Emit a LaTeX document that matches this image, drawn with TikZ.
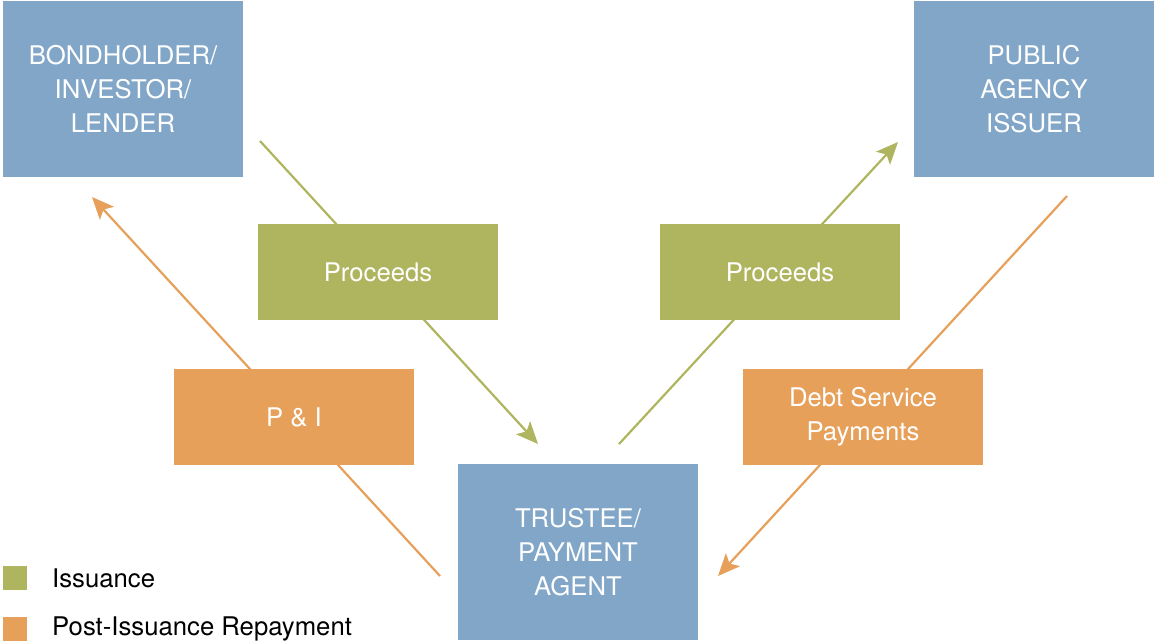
\documentclass[tikz,border=0pt]{standalone}
\usepackage{fontspec}
\setmainfont{TeX Gyre Heros}
\usetikzlibrary{arrows.meta}
\definecolor{boxblue}{HTML}{82A6C8}
\definecolor{issgreen}{HTML}{AFB55E}
\definecolor{reporange}{HTML}{E6A05A}
\tikzset{
  party/.style={fill=boxblue, text=white, minimum width=240pt, minimum height=176pt, inner sep=0pt, align=center, font=\fontsize{25.7}{34}\selectfont},
  label box/.style={minimum width=240pt, minimum height=96pt, inner sep=0pt, align=center, text=white, font=\fontsize{25.7}{34}\selectfont},
  greenbox/.style={label box, fill=issgreen},
  orangebox/.style={label box, fill=reporange},
  flow/.style={line width=2.2pt, -{Stealth[length=22pt,width=19pt,inset=5pt]}},
  legsq/.style={minimum size=24pt, inner sep=0pt},
  legtext/.style={anchor=west, inner sep=0pt, font=\fontsize{25.7}{30}\selectfont}
}
\begin{document}
\begin{tikzpicture}[x=1pt,y=-1pt]
\useasboundingbox (0,0) rectangle (1155,642);
% free ends of the connectors
\coordinate (g1s) at (260,141);
\coordinate (g1e) at (538,444);
\coordinate (g2s) at (619,444);
\coordinate (g2e) at (898,142);
\coordinate (o1s) at (440,576);
\coordinate (o1e) at (92,197);
\coordinate (o2s) at (1067,196);
\coordinate (o2e) at (718,576);
% connectors (behind the label boxes)
\draw[flow, draw=issgreen, fill=issgreen] (g1s) -- (g1e);
\draw[flow, draw=issgreen, fill=issgreen] (g2s) -- (g2e);
\draw[flow, draw=reporange, fill=reporange] (o1s) -- (o1e);
\draw[flow, draw=reporange, fill=reporange] (o2s) -- (o2e);
% parties
\node[party] (bond) at (123,89) {BONDHOLDER/\\INVESTOR/\\LENDER};
\node[party] (agency) at (1034,89) {PUBLIC\\AGENCY\\ISSUER};
\node[party] (trustee) at (578,552) {TRUSTEE/\\PAYMENT\\AGENT};
% flow labels
\node[greenbox] (proc1) at (378,272) {Proceeds};
\node[greenbox] (proc2) at (780,272) {Proceeds};
\node[orangebox] (pi) at (294,417) {P \& I};
\node[orangebox] (dsp) at (863,417) {Debt Service\\Payments};
% legend
\node[legsq, fill=issgreen] (lg1) at (15,578) {};
\node[legtext] (lt1) at (52,578) {Issuance};
\node[legsq, fill=reporange] (lg2) at (15,629) {};
\node[legtext] (lt2) at (52,629) {Post-Issuance Repayment};
\end{tikzpicture}
\end{document}
